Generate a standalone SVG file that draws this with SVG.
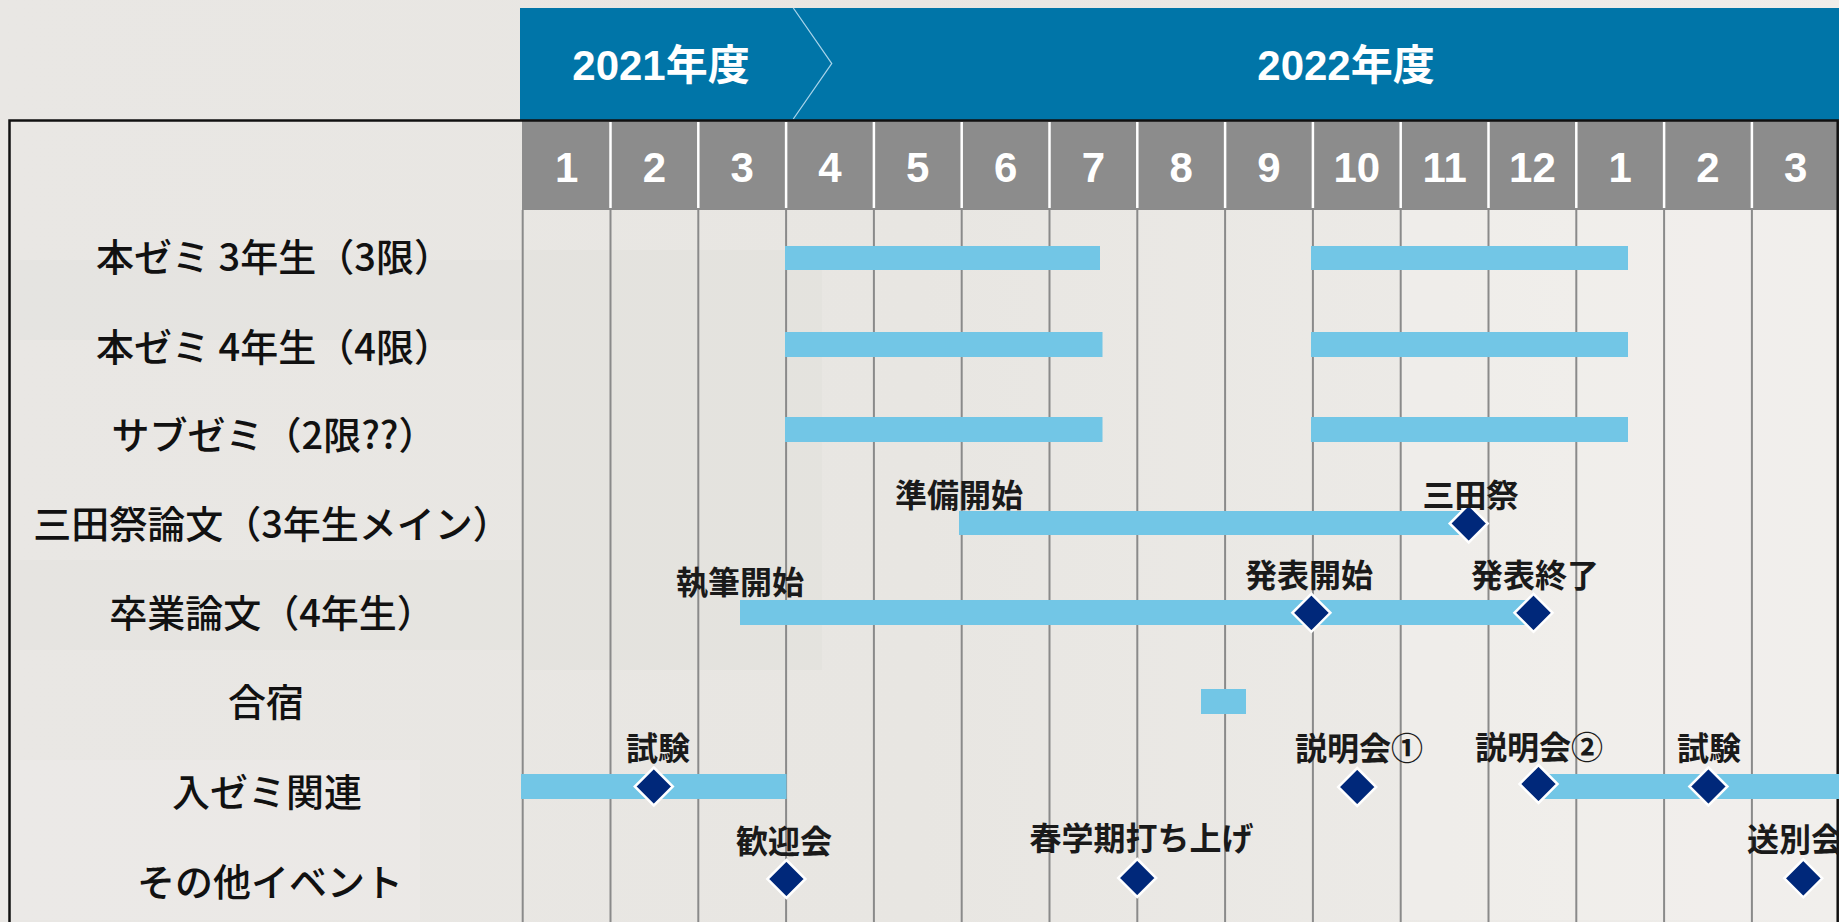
<svg xmlns="http://www.w3.org/2000/svg" xmlns:xlink="http://www.w3.org/1999/xlink" width="1839" height="922" viewBox="0 0 1839 922">
<style>
.bg{fill:#ebe9e6}
.hdr{fill:#0075a8}
.yr{font-family:"Liberation Sans","Noto Sans CJK JP",sans-serif;font-weight:bold;font-size:42px;fill:#ffffff;text-anchor:middle}
.mon{font-family:"Liberation Sans",Arial,sans-serif;font-weight:bold;font-size:42px;fill:#ffffff;text-anchor:middle}
.row{font-family:"Noto Sans CJK JP",sans-serif;font-weight:500;font-size:38px;fill:#111111;text-anchor:middle}
.lbl{font-family:"Noto Sans CJK JP",sans-serif;font-weight:bold;font-size:32px;fill:#1a1a1a;text-anchor:middle}
.bar{fill:#72c6e6}
.grid{stroke:#8a8a8a;stroke-width:2}
.div{stroke:#ffffff;stroke-width:2.5}
.dia{fill:#00287a;stroke:#ffffff;stroke-width:2.5}
</style>
<defs>
<path id="dm" d="M0,-19 L19,0 L0,19 L-19,0 Z"/>
<linearGradient id="bgg" x1="0" y1="0" x2="1" y2="0">
<stop offset="0" stop-color="#e9e7e4"/>
<stop offset="0.5" stop-color="#e8e6e2"/>
<stop offset="1" stop-color="#efedea"/>
</linearGradient>
</defs>
<g id="background">
<rect x="0" y="0" width="1839" height="922" fill="url(#bgg)"/>
<rect x="0" y="260" width="520" height="80" fill="#dcdad7" opacity="0.25"/>
<rect x="0" y="560" width="520" height="90" fill="#dcdad7" opacity="0.2"/>
<rect x="522" y="250" width="300" height="420" fill="#d8d6d3" opacity="0.2"/>
<rect x="1400" y="200" width="439" height="720" fill="#f5f3f0" opacity="0.4"/>
<rect x="0" y="760" width="420" height="160" fill="#f2f0ee" opacity="0.3"/>
</g>
<g id="header">
<rect class="hdr" x="520" y="8" width="1319" height="112"/>
<polyline points="793.3,8 831.7,63.5 793.3,119" fill="none" stroke="#a8d4ea" stroke-width="1.3"/>
<text class="yr" x="661" y="80">2021年度</text>
<text class="yr" x="1346" y="80">2022年度</text>
</g>
<g id="months">
<rect x="522" y="121" width="1317" height="89" fill="#8c8c8c"/>
<g class="div">
<line x1="610.5" y1="122" x2="610.5" y2="208"/>
<line x1="698.3" y1="122" x2="698.3" y2="208"/>
<line x1="786.1" y1="122" x2="786.1" y2="208"/>
<line x1="873.9" y1="122" x2="873.9" y2="208"/>
<line x1="961.7" y1="122" x2="961.7" y2="208"/>
<line x1="1049.5" y1="122" x2="1049.5" y2="208"/>
<line x1="1137.3" y1="122" x2="1137.3" y2="208"/>
<line x1="1225.1" y1="122" x2="1225.1" y2="208"/>
<line x1="1312.9" y1="122" x2="1312.9" y2="208"/>
<line x1="1400.7" y1="122" x2="1400.7" y2="208"/>
<line x1="1488.5" y1="122" x2="1488.5" y2="208"/>
<line x1="1576.3" y1="122" x2="1576.3" y2="208"/>
<line x1="1664.1" y1="122" x2="1664.1" y2="208"/>
<line x1="1751.9" y1="122" x2="1751.9" y2="208"/>
</g>
<text class="mon" x="566.6" y="182">1</text>
<text class="mon" x="654.4" y="182">2</text>
<text class="mon" x="742.2" y="182">3</text>
<text class="mon" x="830" y="182">4</text>
<text class="mon" x="917.8" y="182">5</text>
<text class="mon" x="1005.6" y="182">6</text>
<text class="mon" x="1093.4" y="182">7</text>
<text class="mon" x="1181.2" y="182">8</text>
<text class="mon" x="1269" y="182">9</text>
<text class="mon" x="1356.8" y="182">10</text>
<text class="mon" x="1444.6" y="182">11</text>
<text class="mon" x="1532.4" y="182">12</text>
<text class="mon" x="1620.2" y="182">1</text>
<text class="mon" x="1708" y="182">2</text>
<text class="mon" x="1795.8" y="182">3</text>
</g>
<g id="grid" class="grid">
<line x1="522.7" y1="210" x2="522.7" y2="922"/>
<line x1="610.5" y1="210" x2="610.5" y2="922"/>
<line x1="698.3" y1="210" x2="698.3" y2="922"/>
<line x1="786.1" y1="210" x2="786.1" y2="922"/>
<line x1="873.9" y1="210" x2="873.9" y2="922"/>
<line x1="961.7" y1="210" x2="961.7" y2="922"/>
<line x1="1049.5" y1="210" x2="1049.5" y2="922"/>
<line x1="1137.3" y1="210" x2="1137.3" y2="922"/>
<line x1="1225.1" y1="210" x2="1225.1" y2="922"/>
<line x1="1312.9" y1="210" x2="1312.9" y2="922"/>
<line x1="1400.7" y1="210" x2="1400.7" y2="922"/>
<line x1="1488.5" y1="210" x2="1488.5" y2="922"/>
<line x1="1576.3" y1="210" x2="1576.3" y2="922"/>
<line x1="1664.1" y1="210" x2="1664.1" y2="922"/>
<line x1="1751.9" y1="210" x2="1751.9" y2="922"/>
</g>
<g id="frame">
<rect x="9.5" y="120.5" width="1828.2" height="820" fill="none" stroke="#111111" stroke-width="2.5"/>
</g>
<g id="row-labels">
<text class="row" x="274" y="271">本ゼミ 3年生（3限）</text>
<text class="row" x="274" y="361">本ゼミ 4年生（4限）</text>
<text class="row" x="274" y="449">サブゼミ（2限??）</text>
<text class="row" x="272" y="538">三田祭論文（3年生メイン）</text>
<text class="row" x="272" y="627">卒業論文（4年生）</text>
<text class="row" x="266" y="716">合宿</text>
<text class="row" x="267" y="806">入ゼミ関連</text>
<text class="row" x="270" y="896">その他イベント</text>
</g>
<g id="bars">
<rect class="bar" x="785" y="246" width="315" height="24"/>
<rect class="bar" x="1311" y="246" width="317" height="24"/>
<rect class="bar" x="785" y="332" width="317.5" height="25"/>
<rect class="bar" x="1311" y="332" width="317" height="25"/>
<rect class="bar" x="785" y="417" width="317.5" height="25"/>
<rect class="bar" x="1311" y="417" width="317" height="25"/>
<rect class="bar" x="959" y="511" width="505" height="24"/>
<rect class="bar" x="740" y="600" width="790" height="25"/>
<rect class="bar" x="1201" y="689" width="45" height="25"/>
<rect class="bar" x="521" y="774" width="265.5" height="25"/>
<rect class="bar" x="1540" y="774" width="299" height="25"/>
</g>
<g id="milestones">
<use xlink:href="#dm" class="dia" x="1468.7" y="523.5"/>
<use xlink:href="#dm" class="dia" x="1311.4" y="612.8"/>
<use xlink:href="#dm" class="dia" x="1533.5" y="612.8"/>
<use xlink:href="#dm" class="dia" x="653.8" y="786.5"/>
<use xlink:href="#dm" class="dia" x="1357.2" y="787"/>
<use xlink:href="#dm" class="dia" x="1538.5" y="784"/>
<use xlink:href="#dm" class="dia" x="1708.4" y="786.5"/>
<use xlink:href="#dm" class="dia" x="786.4" y="879"/>
<use xlink:href="#dm" class="dia" x="1137.2" y="878"/>
<use xlink:href="#dm" class="dia" x="1803.3" y="878.3"/>
</g>
<g id="milestone-labels">
<text class="lbl" x="959" y="507">準備開始</text>
<text class="lbl" x="1470.5" y="507">三田祭</text>
<text class="lbl" x="740" y="594">執筆開始</text>
<text class="lbl" x="1309" y="587">発表開始</text>
<text class="lbl" x="1535" y="587">発表終了</text>
<text class="lbl" x="658" y="760">試験</text>
<text class="lbl" x="1359" y="760">説明会①</text>
<text class="lbl" x="1539" y="759">説明会②</text>
<text class="lbl" x="1709" y="760">試験</text>
<text class="lbl" x="784" y="853">歓迎会</text>
<text class="lbl" x="1141.5" y="850">春学期打ち上げ</text>
<text class="lbl" x="1747" y="851" style="text-anchor:start">送別会</text>
</g>
</svg>
